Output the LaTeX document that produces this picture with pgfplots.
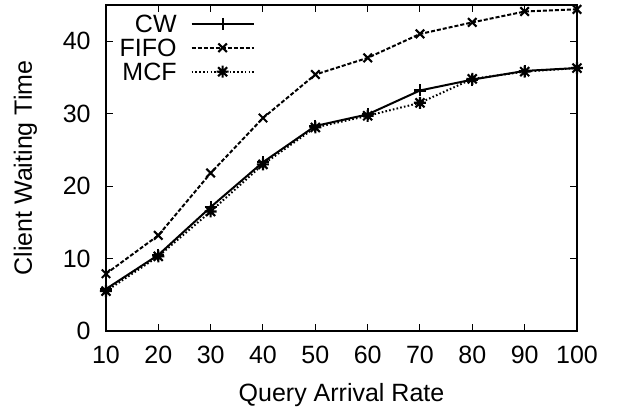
\documentclass[border=0pt]{standalone}
\usepackage{pgfplots}
\pgfplotsset{compat=1.18}
\usepackage{fontspec}
\setmainfont{Liberation Sans}
\pgfdeclareplotmark{gpstar}{%
  \pgfpathmoveto{\pgfqpoint{-\pgfplotmarksize}{0pt}}\pgfpathlineto{\pgfqpoint{\pgfplotmarksize}{0pt}}%
  \pgfpathmoveto{\pgfqpoint{0pt}{-\pgfplotmarksize}}\pgfpathlineto{\pgfqpoint{0pt}{\pgfplotmarksize}}%
  \pgfpathmoveto{\pgfqpoint{-0.75\pgfplotmarksize}{-0.75\pgfplotmarksize}}\pgfpathlineto{\pgfqpoint{0.75\pgfplotmarksize}{0.75\pgfplotmarksize}}%
  \pgfpathmoveto{\pgfqpoint{-0.75\pgfplotmarksize}{0.75\pgfplotmarksize}}\pgfpathlineto{\pgfqpoint{0.75\pgfplotmarksize}{-0.75\pgfplotmarksize}}%
  \pgfusepathqstroke}
\begin{document}
\fontsize{12.5}{15}\selectfont
\begin{tikzpicture}[font=\fontsize{12.5}{15}\selectfont]
\path (-53pt,-39.5pt) rectangle (257.5pt,165.5pt);
\begin{axis}[
  at={(0,0)}, anchor=south west,
  scale only axis, width=235.5pt, height=163pt,
  xmin=10, xmax=100, ymin=0, ymax=45,
  xtick={10,20,...,100}, ytick={0,10,...,40},
  tick align=inside, major tick length=3.5pt,
  tick style={line width=0.5pt, black},
  axis line style={line width=0.6pt},
  /pgf/number format/assume math mode=true,
  xticklabel style={anchor=base, yshift=-16.5pt},
  yticklabel style={anchor=east, inner sep=0pt, xshift=-7.5pt},
  xlabel={Query Arrival Rate},
  ylabel={Client Waiting Time},
  every axis x label/.style={at={(axis description cs:0.5,0)}, anchor=base, yshift=-35.5pt},
  every axis y label/.style={at={(axis description cs:0,0.5)}, xshift=-37pt, rotate=90, anchor=base},
  legend plot pos=right,
  legend image code/.code={\draw[mark repeat=2,mark phase=2,#1] plot coordinates {(0pt,0pt) (15.5pt,0pt) (31pt,0pt)};},
  legend style={draw=none, fill=none, at={(axis description cs:0.3164,0.98)}, anchor=north east,
    cells={anchor=east}, inner sep=0pt, row sep=0pt, column sep=7pt,
    nodes={inner xsep=0pt, inner ysep=1.5pt, text height=8.95pt, text depth=0pt}},
  every axis plot/.append style={line width=1pt, black, mark size=3pt, mark options={solid, line width=1.05pt}},
]
\addplot[mark=+] coordinates {(10,5.8) (20,10.5) (30,17.1) (40,23.3) (50,28.3) (60,29.9) (70,33.2) (80,34.7) (90,35.9) (100,36.3)};
\addlegendentry{CW}
\addplot[mark=x, dash pattern=on 2pt off 1pt] coordinates {(10,7.9) (20,13.2) (30,21.8) (40,29.4) (50,35.4) (60,37.7) (70,41.0) (80,42.6) (90,44.1) (100,44.4)};
\addlegendentry{FIFO}
\addplot[mark=gpstar, dash pattern=on 0.8pt off 1.1pt] coordinates {(10,5.5) (20,10.3) (30,16.5) (40,23.0) (50,28.1) (60,29.7) (70,31.5) (80,34.8) (90,35.8) (100,36.3)};
\addlegendentry{MCF}
\end{axis}
\end{tikzpicture}
\end{document}
